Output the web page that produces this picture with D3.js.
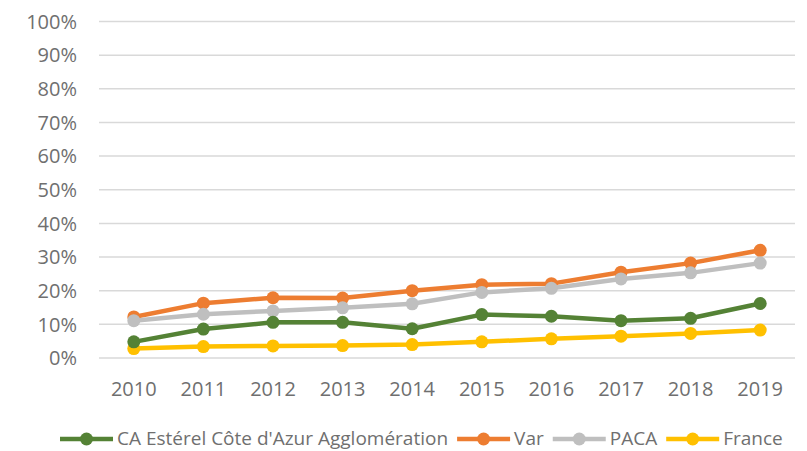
<!DOCTYPE html>
<html><head><meta charset="utf-8">
<script src="https://cdn.jsdelivr.net/npm/d3@7"></script>
<style>body{margin:0;background:#fff}svg{display:block}text{font-family:"Open Sans",sans-serif;fill:#6f6f6f}</style>
</head><body><svg id="c" width="807" height="451"></svg>
<script>
const years = ["2010","2011","2012","2013","2014","2015","2016","2017","2018","2019"];
const seriesNames = ["CA Estérel Côte d'Azur Agglomération","Var","PACA","France"];
const caeca = [0.048,0.086,0.106,0.106,0.087,0.129,0.124,0.111,0.118,0.162];
const varV = [0.122,0.163,0.179,0.178,0.200,0.218,0.221,0.255,0.282,0.320];
const paca = [0.111,0.130,0.140,0.149,0.161,0.195,0.207,0.235,0.253,0.282];
const france = [0.028,0.034,0.036,0.037,0.040,0.048,0.057,0.065,0.073,0.083];
const yTicks = [0,0.1,0.2,0.3,0.4,0.5,0.6,0.7,0.8,0.9,1.0];
const colors = ["#548235","#ED7D31","#BFBFBF","#FFC000"];
const data = [caeca,varV,paca,france];

const svg = d3.select("#c");
const x = d3.scaleBand().domain(years).range([99,795]);
const y = d3.scaleLinear().domain([0,1]).range([358,21.5]);

svg.append("g").selectAll("line").data(yTicks).join("line")
  .attr("x1",99).attr("x2",795).attr("y1",d=>y(d)).attr("y2",d=>y(d))
  .attr("stroke","#d9d9d9").attr("stroke-width",1.5);
svg.append("g").selectAll("text").data(yTicks).join("text")
  .attr("x",77).attr("y",d=>y(d)).attr("dy","0.36em").attr("text-anchor","end")
  .attr("font-size",20).text(d=>d3.format(".0%")(d));
svg.append("g").selectAll("text").data(years).join("text")
  .attr("x",d=>x(d)+x.bandwidth()/2).attr("y",389).attr("dy","0.36em").attr("text-anchor","middle")
  .attr("font-size",20).text(d=>d);

const line = d3.line().x((d,i)=>x(years[i])+x.bandwidth()/2).y(d=>y(d));
[1,2,3,0].forEach(k=>{
  const g = svg.append("g");
  g.append("path").attr("d",line(data[k])).attr("fill","none").attr("stroke",colors[k])
    .attr("stroke-width",4.5).attr("stroke-linejoin","round").attr("stroke-linecap","round");
  g.selectAll("circle").data(data[k]).join("circle")
    .attr("cx",(d,i)=>x(years[i])+x.bandwidth()/2).attr("cy",d=>y(d)).attr("r",6.5).attr("fill",colors[k]);
});

// legend (flow layout)
const lg = svg.append("g");
let cx = 60;
seriesNames.forEach((n,k)=>{
  const g = lg.append("g").attr("transform",`translate(${cx},439)`);
  g.append("line").attr("x1",0).attr("x2",53).attr("stroke",colors[k]).attr("stroke-width",4.5);
  g.append("circle").attr("cx",26.5).attr("r",6.5).attr("fill",colors[k]);
  const t = g.append("text").attr("x",57).attr("dy","0.34em").attr("font-size",19).text(n);
  cx += 57 + t.node().getComputedTextLength() + 9;
});
</script></body></html>
